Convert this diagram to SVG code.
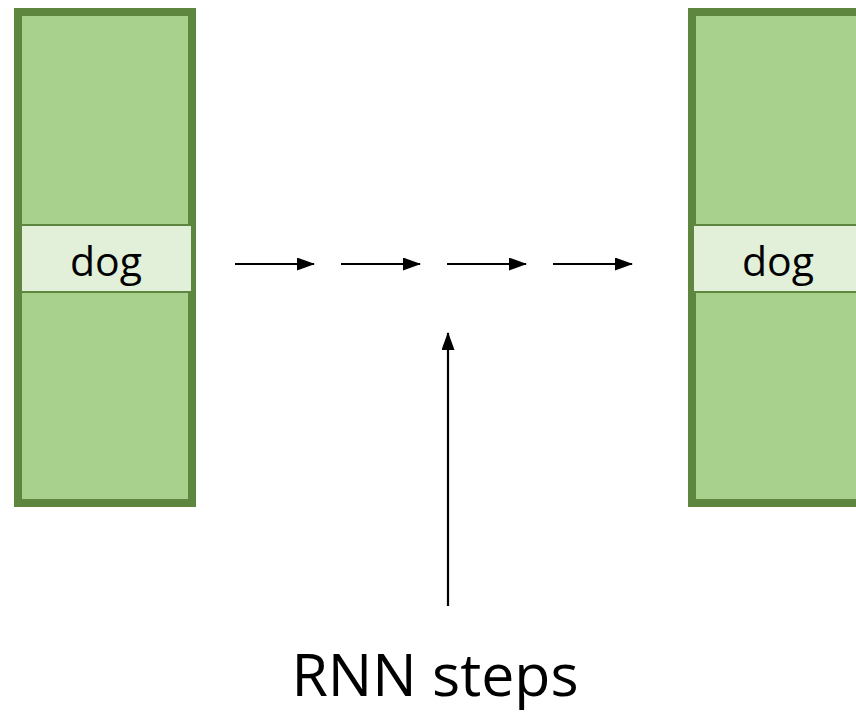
<svg xmlns="http://www.w3.org/2000/svg" width="856" height="713" viewBox="0 0 856 713">
  <style>
    .col { fill: #a9d18e; stroke: #5e863f; stroke-width: 8; }
    .band { fill: #e2efd9; stroke: #5e863f; stroke-width: 2; }
    .word { font-family: "Open Sans", "Liberation Sans", sans-serif; font-size: 41px; fill: #000; text-anchor: middle; }
    .caption { font-family: "Open Sans", "Liberation Sans", sans-serif; font-size: 59px; fill: #000; text-anchor: middle; }
    .link { stroke: #000; stroke-width: 2.2; fill: none; marker-end: url(#head); }
  </style>
  <defs>
    <marker id="head" viewBox="0 0 18 13" refX="17" refY="6.5" markerWidth="18" markerHeight="13" markerUnits="userSpaceOnUse" orient="auto">
      <path d="M0,0 L18,6.5 L0,13 Z" fill="#000"/>
    </marker>
  </defs>

  <rect width="856" height="713" fill="#fff"/>

  <!-- left embedding column -->
  <g id="left-column">
    <rect class="col" x="18" y="12" width="174" height="491"/>
    <rect class="band" x="21" y="225" width="171" height="67"/>
    <text class="word" x="106" y="276">dog</text>
  </g>

  <!-- right embedding column (runs past the edge) -->
  <g id="right-column">
    <rect class="col" x="692" y="12" width="200" height="491"/>
    <rect class="band" x="693" y="225" width="180" height="67"/>
    <text class="word" x="778" y="276">dog</text>
  </g>

  <!-- caption -->
  <g id="rnn-steps">
    <text class="caption" x="435" y="696">RNN steps</text>
  </g>

  <!-- connectors -->
  <g id="connectors">
    <line class="link" x1="235" y1="264" x2="314" y2="264"/>
    <line class="link" x1="341" y1="264" x2="420" y2="264"/>
    <line class="link" x1="447" y1="264" x2="526" y2="264"/>
    <line class="link" x1="553" y1="264" x2="632" y2="264"/>
    <line class="link" x1="448" y1="606" x2="448" y2="333"/>
  </g>
</svg>
